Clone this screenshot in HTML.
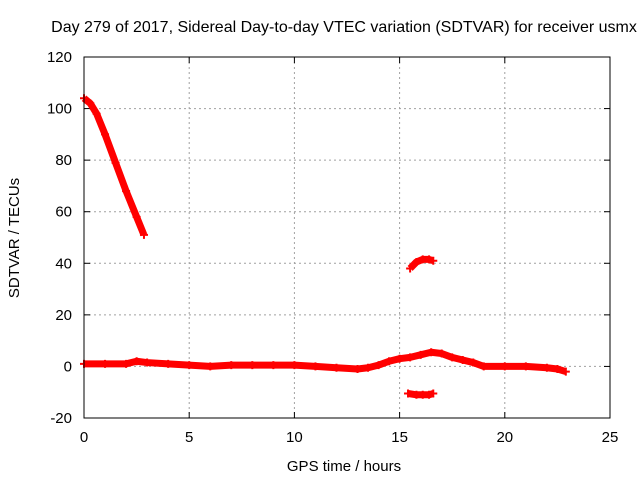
<!DOCTYPE html>
<html><head><meta charset="utf-8"><style>
body{margin:0;background:#fff;}
svg{display:block;font-family:"Liberation Sans",sans-serif;}
</style></head><body>
<svg id="c" width="640" height="480">
<text x="344" y="32" font-size="16" text-anchor="middle">Day 279 of 2017, Sidereal Day-to-day VTEC variation (SDTVAR) for receiver usmx</text>
<text x="344" y="471" font-size="15" text-anchor="middle">GPS time / hours</text>
<text x="0" y="0" font-size="15" text-anchor="middle" transform="translate(19,238) rotate(-90)">SDTVAR / TECUs</text>
<g id="grid"></g><g id="ticks"></g><g id="series"></g>
<rect x="84" y="57" width="526" height="361" fill="none" stroke="#000" stroke-width="1"/>
</svg>
<script>
const xTicks=[0,5,10,15,20,25];
const yTicks=[-20,0,20,40,60,80,100,120];
const segA_t=[0,0.3,0.6,1,1.5,2,2.5,2.85];
const segA_v=[104,102,98,90,79,68,58,51];
const segB_t=[0,1,2,2.5,3,4,5,6,7,8,9,10,11,12,13,13.5,14,14.5,15,15.5,16,16.5,17,17.5,18,18.5,19,20,21,22,22.5,22.9];
const segB_v=[1,1,1,2,1.5,1,0.5,0,0.5,0.5,0.5,0.5,0,-0.5,-1,-0.5,0.5,2,3,3.5,4.5,5.5,5,3.5,2.5,1.5,0,0,0,-0.5,-1,-2];
const segC_t=[15.5,15.8,16.1,16.4,16.6];
const segC_v=[38,40.5,41.5,41.5,41];
const segD_t=[15.4,15.8,16.1,16.4,16.6];
const segD_v=[-10.5,-11,-11,-11,-10.5];
const X=t=>84+t*526/25, Y=v=>418-(v+20)*361/140;
const NS="http://www.w3.org/2000/svg";
function mk(tag,attrs,parent){const e=document.createElementNS(NS,tag);for(const k in attrs)e.setAttribute(k,attrs[k]);document.getElementById(parent).appendChild(e);return e;}
xTicks.forEach(t=>{
 if(t>0&&t<25){const g=mk('line',{x1:X(t),x2:X(t),y1:57,y2:418,stroke:'#a0a0a0','stroke-dasharray':'2,3'},'grid');
 
 }
 const tk=mk('text',{x:X(t),y:442,'font-size':15,'text-anchor':'middle'},'ticks');tk.textContent=t;
 
 
 mk('line',{x1:X(t),x2:X(t),y1:418,y2:412,stroke:'#000'},'ticks');
 mk('line',{x1:X(t),x2:X(t),y1:57,y2:63,stroke:'#000'},'ticks');
});
yTicks.forEach(v=>{
 if(v>-20&&v<120){const g=mk('line',{x1:84,x2:610,y1:Y(v),y2:Y(v),stroke:'#a0a0a0','stroke-dasharray':'2,3'},'grid');
 
 }
 const tk=mk('text',{x:72,y:Y(v)+5,'font-size':15,'text-anchor':'end'},'ticks');tk.textContent=v;
 
 
 mk('line',{x1:84,x2:90,y1:Y(v),y2:Y(v),stroke:'#000'},'ticks');
 mk('line',{x1:610,x2:604,y1:Y(v),y2:Y(v),stroke:'#000'},'ticks');
});
[[segA_t,segA_v,'series-early-high'],[segB_t,segB_v,'series-main'],[segC_t,segC_v,'series-arc-40'],[segD_t,segD_v,'series-negative']].forEach(([ts,vs,name])=>{
 const p=mk('polyline',{points:ts.map((t,i)=>X(t)+','+Y(vs[i])).join(' '),fill:'none',stroke:'#f00','stroke-width':7,'stroke-linejoin':'round'},'series');
 
 
 ts.forEach((t,i)=>{
  const m=mk('path',{d:`M${X(t)-4},${Y(vs[i])}h8M${X(t)},${Y(vs[i])-4}v8`,stroke:'#f00','stroke-width':2},'series');
  
  
 });
});
</script>
</body></html>
